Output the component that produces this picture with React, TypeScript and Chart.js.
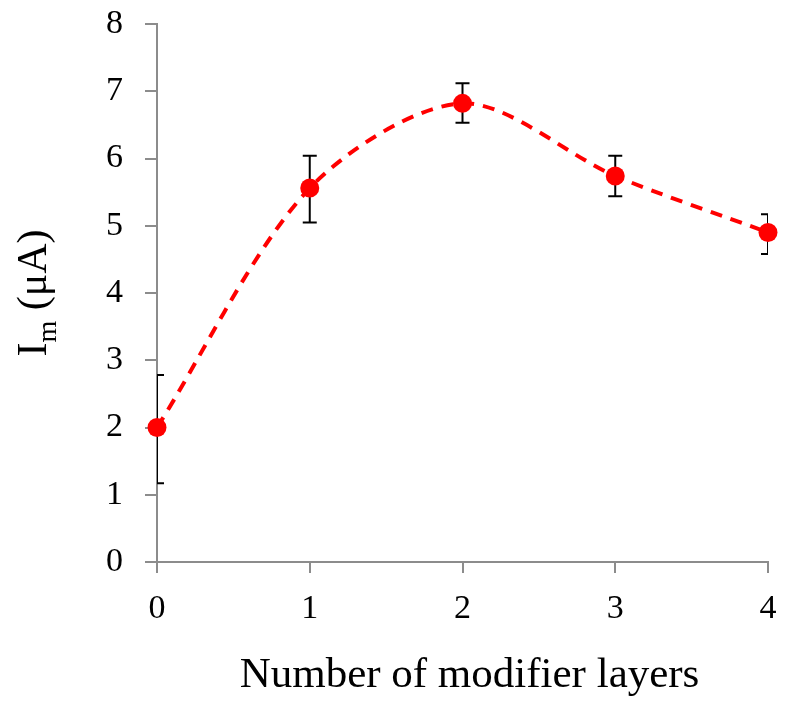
import React, { useEffect, useRef } from "react";
import { Chart, registerables } from "chart.js";

Chart.register(...registerables);

const layers = [0, 1, 2, 3, 4];
const current = [2.0, 5.56, 6.82, 5.74, 4.9];
const errUpper = [2.78, 6.04, 7.12, 6.04, 5.17];
const errLower = [1.17, 5.05, 6.53, 5.44, 4.58];
const xTicks = [0, 1, 2, 3, 4];
const yTicks = [0, 1, 2, 3, 4, 5, 6, 7, 8];
const xTitle = "Number of modifier layers";

const FONT = "'Liberation Serif', 'Times New Roman', serif";
const AXIS_GREY = "#8c8c8c";

const errorBarPlugin = {
  id: "errorBars",
  beforeDatasetsDraw(chart: any) {
    const { ctx, chartArea, scales } = chart;
    const xs = scales.x;
    const ys = scales.y;
    ctx.save();
    ctx.beginPath();
    ctx.rect(chartArea.left, chartArea.top - 20, chartArea.right - chartArea.left, chartArea.bottom - chartArea.top + 40);
    ctx.clip();
    ctx.strokeStyle = "#000";
    ctx.lineWidth = 2;
    const cap = 7;
    layers.forEach((lx, i) => {
      const px = xs.getPixelForValue(lx);
      const yt = ys.getPixelForValue(errUpper[i]);
      const yb = ys.getPixelForValue(errLower[i]);
      ctx.beginPath();
      ctx.moveTo(px, yt);
      ctx.lineTo(px, yb);
      ctx.moveTo(px - cap, yt);
      ctx.lineTo(px + cap, yt);
      ctx.moveTo(px - cap, yb);
      ctx.lineTo(px + cap, yb);
      ctx.stroke();
    });
    ctx.restore();
  },
};

const titlesPlugin = {
  id: "axisTitles",
  afterDraw(chart: any) {
    const { ctx, chartArea } = chart;
    // y title with subscript
    const cy = (chartArea.top + chartArea.bottom) / 2;
    const bigFont = `42px ${FONT}`;
    const smallFont = `28px ${FONT}`;
    ctx.save();
    ctx.fillStyle = "#000";
    ctx.textBaseline = "alphabetic";
    ctx.textAlign = "left";
    ctx.font = bigFont;
    const wI = ctx.measureText("I").width;
    const wRest = ctx.measureText(" (\u03bcA)").width;
    ctx.font = smallFont;
    const wM = ctx.measureText("m").width;
    const total = wI + wM + wRest;
    ctx.translate(46, cy);
    ctx.rotate(-Math.PI / 2);
    let x = -total / 2;
    ctx.font = bigFont;
    ctx.fillText("I", x, 0);
    x += wI;
    ctx.font = smallFont;
    ctx.fillText("m", x, 10);
    x += wM;
    ctx.font = bigFont;
    ctx.fillText(" (\u03bcA)", x, 0);
    ctx.restore();

    // x title
    ctx.save();
    ctx.fillStyle = "#000";
    ctx.font = `43px ${FONT}`;
    ctx.textAlign = "center";
    ctx.textBaseline = "alphabetic";
    ctx.fillText(xTitle, (chartArea.left + chartArea.right) / 2 + 7, chartArea.bottom + 125);
    ctx.restore();
  },
};

export default function App() {
  const ref = useRef<HTMLCanvasElement | null>(null);

  useEffect(() => {
    if (!ref.current) return;
    const chart = new Chart(ref.current, {
      type: "line",
      data: {
        datasets: [
          {
            data: layers.map((x, i) => ({ x, y: current[i] })),
            borderColor: "#ff0000",
            backgroundColor: "#ff0000",
            borderWidth: 4,
            borderDash: [12, 9],
            tension: 0.3,
            pointRadius: 9.5,
            pointBorderWidth: 0,
            pointBackgroundColor: "#ff0000",
            clip: false as any,
          },
        ],
      },
      options: {
        responsive: false,
        animation: false,
        devicePixelRatio: 1,
        layout: { padding: { top: 24, right: 30, left: 0, bottom: 0 } },
        plugins: {
          legend: { display: false },
          tooltip: { enabled: false },
          title: { display: false },
        },
        scales: {
          x: {
            type: "linear",
            min: 0,
            max: 4,
            afterFit(scale: any) {
              scale.height = 150;
              scale.paddingLeft = 0;
              scale.paddingRight = 0;
            },
            afterBuildTicks(scale: any) {
              scale.ticks = xTicks.map((v) => ({ value: v }));
            },
            border: { color: AXIS_GREY, width: 2 },
            grid: { drawOnChartArea: false, color: AXIS_GREY, lineWidth: 2, tickLength: 11 },
            ticks: {
              font: { family: FONT, size: 34 },
              color: "#000",
              padding: 16,
              maxRotation: 0,
            },
          },
          y: {
            type: "linear",
            min: 0,
            max: 8,
            afterFit(scale: any) {
              scale.width = 157;
              scale.paddingTop = 0;
              scale.paddingBottom = 0;
            },
            afterBuildTicks(scale: any) {
              scale.ticks = yTicks.map((v) => ({ value: v }));
            },
            border: { color: AXIS_GREY, width: 2 },
            grid: { drawOnChartArea: false, color: AXIS_GREY, lineWidth: 2, tickLength: 12 },
            ticks: {
              font: { family: FONT, size: 34 },
              color: "#000",
              padding: 22,
            },
          },
        },
      },
      plugins: [errorBarPlugin, titlesPlugin],
    });
    return () => chart.destroy();
  }, []);

  return (
    <div style={{ position: "absolute", left: 0, top: 0, width: 798, height: 712, background: "#fff" }}>
      <canvas ref={ref} width={798} height={712} />
    </div>
  );
}
